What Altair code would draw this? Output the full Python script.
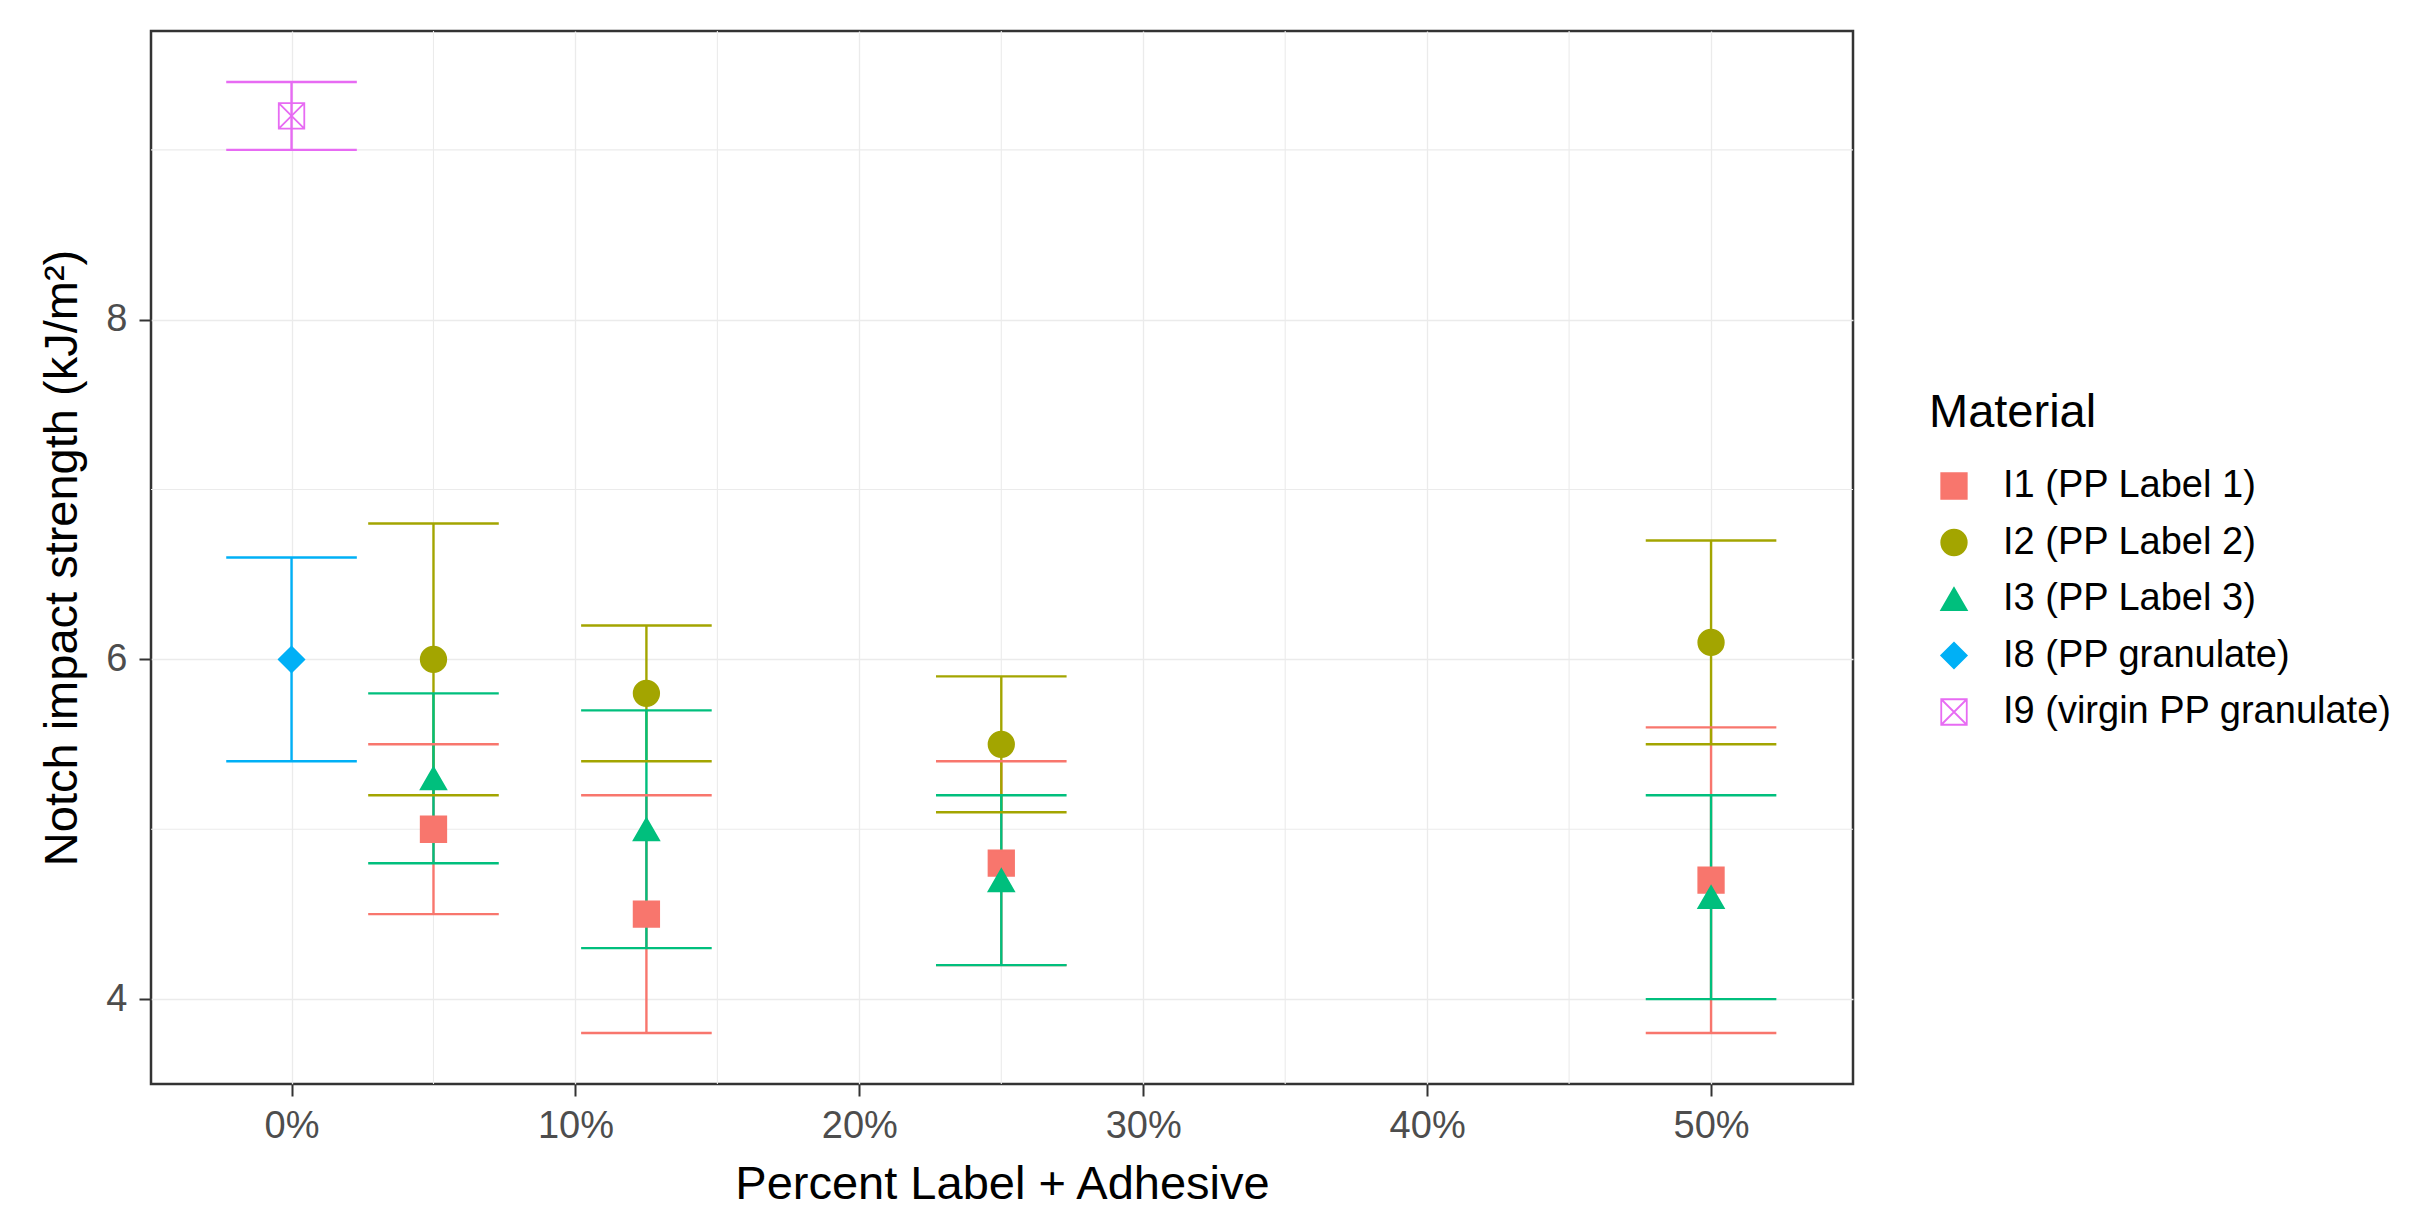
import altair as alt
import pandas as pd

# legend order and ggplot default hue palette
materials = ["I1 (PP Label 1)", "I2 (PP Label 2)", "I3 (PP Label 3)",
             "I8 (PP granulate)", "I9 (virgin PP granulate)"]
colors = ["#F8766D", "#A3A500", "#00BF7D", "#00B0F6", "#E76BF3"]
fills = ["#F8766D", "#A3A500", "#00BF7D", "#00B0F6", "transparent"]
shapes = ["square", "circle", "triangle-up", "diamond",
          "M-1,-1L1,-1L1,1L-1,1Z M-1,-1L1,1 M1,-1L-1,1"]
sizes = [650, 650, 1080, 650, 700]

# one row per point
material = ([materials[0]] * 4 + [materials[1]] * 4 + [materials[2]] * 4
            + [materials[3], materials[4]])
percent = [5, 12.5, 25, 50,
           5, 12.5, 25, 50,
           5, 12.5, 25, 50,
           0, 0]
strength = [5.0, 4.5, 4.8, 4.7,
            6.0, 5.8, 5.5, 6.1,
            5.3, 5.0, 4.7, 4.6,
            6.0, 9.2]
lower = [4.5, 3.8, 4.2, 3.8,
         5.2, 5.4, 5.1, 5.5,
         4.8, 4.3, 4.2, 4.0,
         5.4, 9.0]
upper = [5.5, 5.2, 5.4, 5.6,
         6.8, 6.2, 5.9, 6.7,
         5.8, 5.7, 5.2, 5.2,
         6.6, 9.4]

x_ticks = [0, 10, 20, 30, 40, 50]
y_ticks = [4, 6, 8]
x_minor = [5, 15, 25, 35, 45]
y_minor = [5, 7, 9]

cap_half = 2.3  # half width of the error bar caps, in percent units
font = "Liberation Sans"

df = pd.DataFrame({"material": material, "percent": percent,
                   "strength": strength, "lower": lower, "upper": upper})

x_scale = alt.Scale(domain=[-4.95, 55.0], nice=False, zero=False)
y_scale = alt.Scale(domain=[3.5, 9.7], nice=False, zero=False)
x_axis = alt.Axis(values=x_ticks, labelExpr="datum.value + '%'",
                  title="Percent Label + Adhesive")
y_axis = alt.Axis(values=y_ticks, title="Notch impact strength (kJ/m²)")


def xq(field):
    return alt.X(field, type="quantitative", scale=x_scale, axis=x_axis)


def yq(field):
    return alt.Y(field, type="quantitative", scale=y_scale, axis=y_axis)


color_scale = alt.Scale(domain=materials, range=colors)
legend = alt.Legend(orient="none", legendX=1778, legendY=359)
color = alt.Color("material:N", scale=color_scale, title="Material", legend=legend)

minor_x = alt.Chart(pd.DataFrame({"v": x_minor})).mark_rule(
    color="#EBEBEB", strokeWidth=1.1).encode(x=xq("v"))
minor_y = alt.Chart(pd.DataFrame({"v": y_minor})).mark_rule(
    color="#EBEBEB", strokeWidth=1.1).encode(y=yq("v"))

base = alt.Chart(df)

stems = base.mark_rule(strokeWidth=2.4).encode(
    x=xq("percent"), y=yq("lower"), y2="upper", color=color)

capped = base.transform_calculate(
    x_left=f"datum.percent - {cap_half}",
    x_right=f"datum.percent + {cap_half}")
caps_hi = capped.mark_rule(strokeWidth=2.4).encode(
    x=xq("x_left"), x2="x_right", y=yq("upper"), color=color)
caps_lo = capped.mark_rule(strokeWidth=2.4).encode(
    x=xq("x_left"), x2="x_right", y=yq("lower"), color=color)

points = base.mark_point(filled=False, opacity=1, strokeWidth=1.8).encode(
    x=xq("percent"),
    y=yq("strength"),
    color=color,
    fill=alt.Fill("material:N", scale=alt.Scale(domain=materials, range=fills),
                  title="Material", legend=legend),
    shape=alt.Shape("material:N", scale=alt.Scale(domain=materials, range=shapes),
                    title="Material", legend=legend),
    size=alt.Size("material:O", scale=alt.Scale(domain=materials, range=sizes),
                  legend=None),
)

chart = alt.layer(minor_x, minor_y, stems, caps_hi, caps_lo, points).properties(
    width=1702,
    height=1053,
    autosize=alt.AutoSizeParams(type="none"),
    padding={"left": 143, "top": 23, "right": 540, "bottom": 132},
).configure_view(
    stroke="#333333", strokeWidth=2.5
).configure_axis(
    domain=False,
    grid=True,
    gridColor="#EBEBEB",
    gridWidth=1.3,
    tickColor="#333333",
    tickWidth=2,
    tickSize=12,
    labelFont=font,
    labelFontSize=38,
    labelColor="#4D4D4D",
    titleFont=font,
    titleFontSize=47,
    titleFontWeight="normal",
    titleColor="black",
).configure_axisX(
    labelPadding=11, titlePadding=16, labelAngle=0
).configure_axisY(
    labelPadding=12, titlePadding=19
).configure_legend(
    padding=0,
    titleFont=font,
    titleFontSize=47,
    titleFontWeight="normal",
    titleColor="black",
    titlePadding=30,
    labelFont=font,
    labelFontSize=38,
    labelColor="black",
    labelLimit=600,
    symbolSize=650,
    symbolStrokeWidth=1.8,
    rowPadding=18.5,
    labelOffset=30,
    symbolOffset=6,
)

chart.save("out.html", embed_options={"renderer": "svg", "actions": False})
